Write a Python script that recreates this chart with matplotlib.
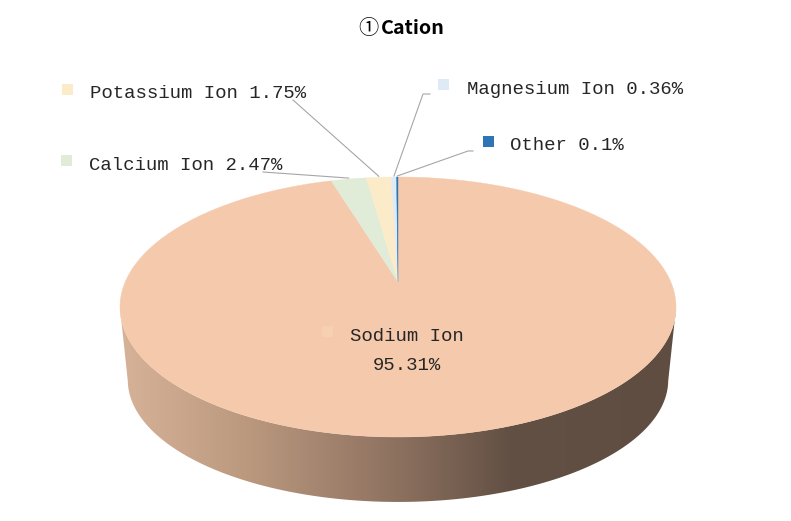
import numpy as np
import matplotlib
matplotlib.use("Agg")
import matplotlib.pyplot as plt
from matplotlib.patches import Polygon

plt.rc("font", family=["Liberation Mono"])

# slices, clockwise from 12 o'clock
names = ["Sodium Ion", "Calcium Ion", "Potassium Ion", "Magnesium Ion", "Other"]
values = [95.31, 2.47, 1.75, 0.36, 0.10]
labels = ["Sodium Ion\n95.31%", "Calcium Ion 2.47%", "Potassium Ion 1.75%",
          "Magnesium Ion 0.36%", "Other 0.1%"]
colors = ["#F5CAAC", "#E0ECD7", "#FBEBC8", "#DEEAF6", "#2E75B6"]
key_colors = ["#F7CFB3", "#E0ECD7", "#FBEBC8", "#DEEAF6", "#2E75B6"]

# layout in image pixels
key_boxes = {"Sodium Ion": (322, 326), "Calcium Ion": (61, 155), "Potassium Ion": (62, 84),
             "Magnesium Ion": (438, 79), "Other": (483, 136)}
text_pos = {"Calcium Ion": (89, 165), "Potassium Ion": (90, 93),
            "Magnesium Ion": (467, 89), "Other": (510, 146)}
leaders = {"Calcium Ion": [(263, 172)], "Potassium Ion": [(293, 100)],
           "Magnesium Ion": [(430, 94), (423, 94)], "Other": [(473, 151), (468, 151)]}

# perspective of the pie top, apex sits above the ellipse centre
cx, apex_y, top_y, bot_y, half_w = 398.0, 282.0, 177.0, 437.0, 278.0
c = (top_y + bot_y - 2 * apex_y) / (bot_y - top_y)
a = top_y * (1 + c) - apex_y
d = half_w * np.sqrt(1 - c ** 2)


def rim(pct):
    # pct is percent clockwise from 12 o'clock
    t = np.pi / 2 - np.asarray(pct) / 100.0 * 2 * np.pi
    w = 1 + c * np.sin(t)
    return cx + d * np.cos(t) / w, (apex_y + a * np.sin(t)) / w


fig = plt.figure(figsize=(7.91, 5.21), dpi=100)
ax = fig.add_axes([0, 0, 1, 1])
ax.set_xlim(0, 791)
ax.set_ylim(521, 0)
ax.axis("off")

# side wall: lower half of the rim, then a smaller rim further down
mid_y = (top_y + bot_y) / 2
pcts = np.linspace(0, 100, 721)
xr, yr = rim(pcts)
low = yr >= mid_y
order = np.argsort(xr[low])
x_top, y_top = xr[low][order], yr[low][order]
x_low = cx + (x_top - cx) * 0.972
y_low = 380 + (y_top - mid_y) * 0.938
wall = Polygon(np.r_[np.c_[x_top, y_top], np.c_[x_low, y_low][::-1]], closed=True,
               fc="none", ec="none")
ax.add_patch(wall)
stops_x = [120, 250, 400, 510, 676]
stops_r = [214, 186, 140, 98, 95]
stops_g = [178, 152, 112, 80, 77]
stops_b = [152, 126, 95, 68, 65]
xs = np.arange(110, 686)
grad = np.stack([np.interp(xs, stops_x, s) for s in (stops_r, stops_g, stops_b)], axis=-1) / 255.0
im = ax.imshow(grad[np.newaxis, :, :], extent=(110, 686, 510, 300), aspect="auto", zorder=1)
im.set_clip_path(wall)
ax.set_xlim(0, 791)
ax.set_ylim(521, 0)

# top face
start = 0.0
total = sum(values)
mids = {}
for name, val, col in zip(names, values, colors):
    stop = start + val / total * 100
    p = np.linspace(start, stop, max(int(val * 8), 4))
    x, y = rim(p)
    ax.fill(np.r_[cx, x], np.r_[apex_y, y], color=col, lw=0.3, zorder=2)
    mids[name] = (start + stop) / 2
    start = stop

# leader lines
for name, pts in leaders.items():
    ex, ey = rim(mids[name])
    line = pts + [(float(ex), float(ey) - 1)]
    ax.plot([q[0] for q in line], [q[1] for q in line], color="#A6A6A6", lw=0.8, zorder=3)

# legend keys and labels
for name, label, col in zip(names, labels, key_colors):
    kx, ky = key_boxes[name]
    ax.add_patch(Polygon([(kx, ky), (kx + 10.5, ky), (kx + 10.5, ky + 10.5), (kx, ky + 10.5)],
                         closed=True, fc=col, ec="none", zorder=4))
    if name == "Sodium Ion":
        ax.text(407, 351, label, ha="center", va="center", fontsize=13.7,
                color="#262626", linespacing=1.95, zorder=5)
    else:
        tx, ty = text_pos[name]
        ax.text(tx, ty, label, ha="left", va="center", fontsize=13.7, color="#262626", zorder=5)

ax.text(358, 29, "①", ha="left", va="center", fontsize=14.5,
        family=["Noto Sans CJK SC", "DejaVu Sans"], color="black")
ax.text(381, 29, "Cation", ha="left", va="center", fontsize=14.2, fontweight="bold",
        family=["Noto Sans CJK SC", "DejaVu Sans"], color="black")

fig.savefig("out.png", dpi=100)
